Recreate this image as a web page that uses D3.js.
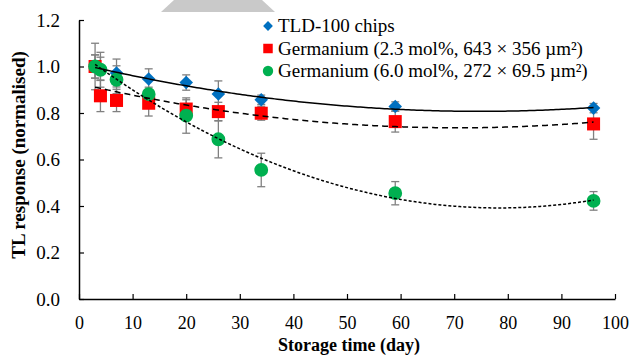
<!DOCTYPE html>
<html>
<head>
<meta charset="utf-8">
<script src="https://cdn.jsdelivr.net/npm/d3@7"></script>
<style>
html,body{margin:0;padding:0;background:#fff;}
svg{display:block;font-family:"Liberation Serif","Times New Roman",serif;}
</style>
</head>
<body>
<svg id="chart" width="634" height="357"></svg>
<script>
// ---- data ----
const days = [3, 4, 7, 13, 20, 26, 34, 59, 96];
const tldValues = [1.00, 0.99, 0.972, 0.946, 0.931, 0.882, 0.857, 0.828, 0.821];
const tldErrors = [0.05, 0.05, 0.06, 0.044, 0.033, 0.056, 0.02, 0.02, 0.02];
const ge23Values = [1.00, 0.874, 0.854, 0.842, 0.817, 0.806, 0.799, 0.763, 0.753];
const ge23Errors = [0.05, 0.068, 0.048, 0.055, 0.04, 0.04, 0.03, 0.045, 0.066];
const ge60Values = [1.00, 0.986, 0.943, 0.881, 0.789, 0.687, 0.555, 0.455, 0.422];
const ge60Errors = [0.10, 0.075, 0.06, 0.03, 0.076, 0.08, 0.072, 0.05, 0.04];
const seriesNames = ["TLD-100 chips", "Germanium (2.3 mol%, 643 × 356 µm²)", "Germanium (6.0 mol%, 272 × 69.5 µm²)"];
const xTicks = [0, 10, 20, 30, 40, 50, 60, 70, 80, 90, 100];
const yTicks = [0.0, 0.2, 0.4, 0.6, 0.8, 1.0, 1.2];

const FONT = "Liberation Serif";

const series = [
  {name: seriesNames[0], values: tldValues, errors: tldErrors, color: "#0070C0", shape: d3.symbolSquare, rot: 45, size: 92, dash: null, lgSize: 48},
  {name: seriesNames[1], values: ge23Values, errors: ge23Errors, color: "#FF0000", shape: d3.symbolSquare, rot: 0, size: 170, dash: "6,4", lgSize: 90},
  {name: seriesNames[2], values: ge60Values, errors: ge60Errors, color: "#00B050", shape: d3.symbolCircle, rot: 0, size: 150, dash: "3,2", lgSize: 85}
];

// quadratic least-squares trend (like a spreadsheet polynomial trendline)
function quadFit(xs, ys) {
  let n = xs.length, s = [0,0,0,0,0], t = [0,0,0];
  for (let i = 0; i < n; i++) {
    const x = xs[i], y = ys[i];
    for (let k = 0; k < 5; k++) s[k] += Math.pow(x, k);
    for (let k = 0; k < 3; k++) t[k] += Math.pow(x, k) * y;
  }
  const A = [[s[0], s[1], s[2], t[0]], [s[1], s[2], s[3], t[1]], [s[2], s[3], s[4], t[2]]];
  for (let i = 0; i < 3; i++) {
    for (let j = i + 1; j < 3; j++) {
      const f = A[j][i] / A[i][i];
      for (let k = i; k < 4; k++) A[j][k] -= f * A[i][k];
    }
  }
  const c = [0,0,0];
  for (let i = 2; i >= 0; i--) {
    let v = A[i][3];
    for (let k = i + 1; k < 3; k++) v -= A[i][k] * c[k];
    c[i] = v / A[i][i];
  }
  return x => c[0] + c[1] * x + c[2] * x * x;
}

const svg = d3.select("#chart");
const x = d3.scaleLinear().domain([0, 100]).range([79, 615]);
const y = d3.scaleLinear().domain([0, 1.2]).range([299, 20]);

// grey shape at top
svg.append("path")
  .attr("d", "M161,12 L174,0 L262,0 L275,12 Z")
  .attr("fill", "#c9c9c9");

// axes
const xAxis = d3.axisBottom(x).tickValues(xTicks).tickSizeInner(-5).tickSizeOuter(0).tickPadding(17).tickFormat(d3.format("d"));
const gx = svg.append("g").attr("transform", "translate(0,299)").call(xAxis);
gx.attr("font-family", FONT);
gx.select(".domain").attr("stroke", "#000").attr("stroke-width", 1.5);
gx.selectAll(".tick line").attr("stroke", "#000").attr("stroke-width", 1.2);
gx.selectAll(".tick text").attr("font-size", 18).attr("font-family", FONT).attr("fill", "#000");

const yAxis = d3.axisLeft(y).tickValues(yTicks).tickSizeInner(-5).tickSizeOuter(0).tickPadding(19).tickFormat(d3.format(".1f"));
const gy = svg.append("g").attr("transform", "translate(79,0)").call(yAxis);
gy.attr("font-family", FONT);
gy.select(".domain").attr("stroke", "#000").attr("stroke-width", 1.5);
gy.selectAll(".tick line").attr("stroke", "#000").attr("stroke-width", 1.2);
gy.selectAll(".tick text").attr("font-size", 19).attr("font-family", FONT).attr("fill", "#000");

// axis titles
svg.append("text").attr("x", 349).attr("y", 351).attr("text-anchor", "middle")
  .attr("font-family", FONT).attr("font-size", 18).attr("font-weight", "bold").text("Storage time (day)");
svg.append("text").attr("transform", "translate(25,155) rotate(-90)").attr("text-anchor", "middle")
  .attr("font-family", FONT).attr("font-size", 19).attr("font-weight", "bold").text("TL response (normalised)");

// error bars
series.forEach(s => {
  const g = svg.append("g");
  days.forEach((d, i) => {
    const cx = x(d), y1 = y(s.values[i] + s.errors[i]), y2 = y(s.values[i] - s.errors[i]);
    g.append("line").attr("x1", cx).attr("x2", cx).attr("y1", y1).attr("y2", y2).attr("stroke", "#808080").attr("stroke-width", 1.3);
    g.append("line").attr("x1", cx - 4).attr("x2", cx + 4).attr("y1", y1).attr("y2", y1).attr("stroke", "#808080").attr("stroke-width", 1.3);
    g.append("line").attr("x1", cx - 4).attr("x2", cx + 4).attr("y1", y2).attr("y2", y2).attr("stroke", "#808080").attr("stroke-width", 1.3);
  });
});

// markers
series.forEach(s => {
  svg.append("g").selectAll("path").data(days).join("path")
    .attr("d", d3.symbol().type(s.shape).size(s.size))
    .attr("transform", (d, i) => `translate(${x(d)},${y(s.values[i])}) rotate(${s.rot})`)
    .attr("fill", s.color);
});

// trend lines
series.forEach(s => {
  const f = quadFit(days, s.values);
  const pts = d3.range(days[0], days[days.length - 1] + 0.01, 0.5);
  svg.append("path")
    .attr("d", d3.line().x(d => x(d)).y(d => y(f(d)))(pts))
    .attr("fill", "none").attr("stroke", "#000").attr("stroke-width", 1.5)
    .attr("stroke-dasharray", s.dash);
});

// legend
const lg = svg.append("g");
series.forEach((s, i) => {
  const cy = 26 + i * 22.5;
  lg.append("path").attr("d", d3.symbol().type(s.shape).size(s.lgSize)())
    .attr("transform", `translate(268,${cy}) rotate(${s.rot})`).attr("fill", s.color);
  lg.append("text").attr("x", 278).attr("y", cy + 6).attr("font-family", FONT).attr("font-size", 19).text(s.name);
});
</script>
</body>
</html>
